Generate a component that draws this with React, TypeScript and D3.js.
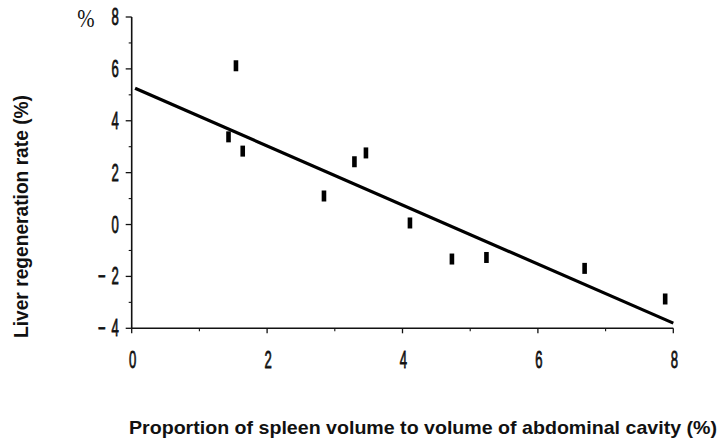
import React from "react";
import * as d3 from "d3";

const pointX = [1.54, 1.43, 1.64, 2.84, 3.29, 3.46, 4.11, 4.73, 5.24, 6.69, 7.88];
const pointY = [6.12, 3.38, 2.83, 1.1, 2.42, 2.76, 0.06, -1.33, -1.27, -1.69, -2.87];
const lineX = [0.05, 8];
const lineY = [5.25, -3.8];
const xTicks = [0, 2, 4, 6, 8];
const xMinor = [1, 3, 5, 7];
const yTicks = [-4, -2, 0, 2, 4, 6, 8];
const yMinor = [-3, -1, 1, 3, 5, 7];
const xTitle = "Proportion of spleen volume to volume of abdominal cavity (%)";
const yTitle = "Liver regeneration rate (%)";
const yUnit = "%";

export default function App() {
  const W = 724, H = 446;
  const x = d3.scaleLinear().domain([0, 8]).range([131.7, 673.3]);
  const y = d3.scaleLinear().domain([-4, 8]).range([328.3, 17]);
  const line = d3.line<[number, number]>().x(d => x(d[0])).y(d => y(d[1]));
  const linePts: [number, number][] = lineX.map((v, i) => [v, lineY[i]]);
  const tickFont = "'Liberation Sans', Arial, sans-serif";
  const x0 = x(0), yb = y(-4);
  return (
    <svg width={W} height={H} style={{ position: "absolute", left: 0, top: 0, background: "#fff" }}>
      <rect x={0} y={0} width={W} height={H} fill="#fff" />
      {/* axes */}
      <line x1={x0} x2={x0} y1={y(8)} y2={yb} stroke="#111" strokeWidth={1.6} />
      <line x1={x0} x2={x(8)} y1={yb} y2={yb} stroke="#111" strokeWidth={1.6} />
      {yTicks.map(t => (
        <line key={"yt" + t} x1={x0 - 6} x2={x0} y1={y(t)} y2={y(t)} stroke="#111" strokeWidth={1.3} />
      ))}
      {yMinor.map(t => (
        <line key={"ym" + t} x1={x0 - 3} x2={x0} y1={y(t)} y2={y(t)} stroke="#111" strokeWidth={1.1} />
      ))}
      {xTicks.map(t => (
        <line key={"xt" + t} x1={x(t)} x2={x(t)} y1={yb} y2={yb + 5} stroke="#111" strokeWidth={1.3} />
      ))}
      {xMinor.map(t => (
        <line key={"xm" + t} x1={x(t)} x2={x(t)} y1={yb} y2={yb + 3} stroke="#111" strokeWidth={1.1} />
      ))}
      {/* y tick labels */}
      {yTicks.map(t => (
        <text key={"yl" + t} transform={`translate(${x0 - 13},${y(t) + 8}) scale(0.57,1)`}
          textAnchor="end" fontFamily={tickFont} fontSize={23} fill="#111" stroke="#111" strokeWidth={0.8}>
          {t < 0 ? (<><tspan>−</tspan><tspan dx={10}>{Math.abs(t)}</tspan></>) : String(t)}
        </text>
      ))}
      <text transform={`translate(86,27) scale(0.8,1)`} textAnchor="middle" fontFamily="'Liberation Serif', serif" fontSize={26} fill="#111">{yUnit}</text>
      {/* x tick labels */}
      {xTicks.map(t => (
        <text key={"xl" + t} transform={`translate(${x(t) + 1},${yb + 40}) scale(0.57,1)`}
          textAnchor="middle" fontFamily={tickFont} fontSize={23} fill="#111" stroke="#111" strokeWidth={0.8}>{t}</text>
      ))}
      {/* regression line */}
      <path d={line(linePts) || ""} stroke="#000" strokeWidth={3.2} fill="none" />
      {/* points */}
      {pointX.map((v, i) => (
        <rect key={"p" + i} x={x(v) - 2.3} y={y(pointY[i]) - 5.5} width={4.6} height={11} fill="#000" />
      ))}
      {/* titles */}
      <text transform={`translate(28,${(95 + 338) / 2}) rotate(-90)`} textAnchor="middle"
        fontFamily={tickFont} fontWeight="bold" fontSize={21} fill="#111"
        textLength={243} lengthAdjust="spacingAndGlyphs">{yTitle}</text>
      <text x={(128 + 718) / 2} y={434} textAnchor="middle"
        fontFamily={tickFont} fontWeight="bold" fontSize={19} fill="#111"
        textLength={588} lengthAdjust="spacingAndGlyphs">{xTitle}</text>
    </svg>
  );
}
